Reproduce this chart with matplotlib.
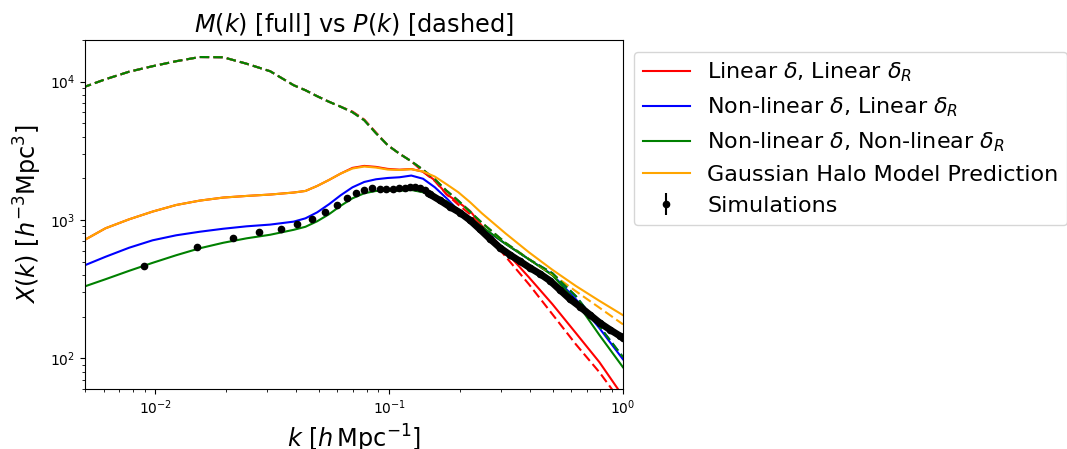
import matplotlib
matplotlib.use("Agg")
import matplotlib.pyplot as plt

# shared k grid for the model curves [h/Mpc]
k_model = [0.00486, 0.00612, 0.00772, 0.00973, 0.01227, 0.01546, 0.01949, 0.02457,
           0.03097, 0.03904, 0.04384, 0.04922, 0.05526, 0.06205, 0.06967, 0.07822,
           0.08783, 0.09863, 0.1107, 0.1243, 0.1396, 0.1567, 0.1760, 0.1976, 0.2219,
           0.2491, 0.3141, 0.3960, 0.4992, 0.6292, 0.7933, 1.00]

# M(k) curves (solid)
M_lin_lin = [701, 871, 1011, 1150, 1283, 1380, 1452, 1492, 1527, 1579, 1621, 1762, 1946,
             2166, 2380, 2460, 2420, 2340, 2310, 2335, 2234, 1937, 1534, 1343, 1162, 908,
             594, 385, 246, 152, 93.6, 53.1]
M_nl_lin = [462, 542, 630, 713, 775, 822, 864, 900, 926, 973, 1028, 1136, 1299, 1510,
            1723, 1883, 1969, 2012, 2036, 2095, 1986, 1724, 1435, 1175, 1012, 886, 673,
            520, 402, 267, 165, 98.3]
M_nl_nl = [326, 373, 429, 490, 556, 624, 684, 737, 782, 849, 893, 979, 1100, 1267, 1435,
           1560, 1621, 1626, 1626, 1648, 1586, 1484, 1365, 1195, 1029, 893, 673, 520,
           398, 258, 147, 86.1]
M_halo = [701, 871, 1011, 1150, 1283, 1380, 1452, 1492, 1527, 1579, 1621, 1762, 1946,
          2166, 2355, 2434, 2393, 2314, 2299, 2327, 2240, 2060, 1812, 1586, 1343, 1118,
          801, 584, 436, 333, 260, 205]

# P(k) curves (dashed)
P_lin = [9035, 10410, 11800, 12930, 14050, 15060, 15010, 13470, 11890, 9419, 8666, 7842,
         7156, 6584, 6077, 5322, 4286, 3468, 3011, 2657, 2231, 1914, 1534, 1288, 1100,
         871, 546, 343, 208, 126, 79.2, 46.5]
P_nl = [9035, 10410, 11800, 12930, 14050, 15060, 15010, 13470, 11890, 9419, 8666, 7842,
        7156, 6584, 6007, 5260, 4236, 3468, 3011, 2657, 2307, 1969, 1626, 1377, 1147,
        955, 684, 520, 412, 281, 170, 102]
P_halo = [9035, 10410, 11800, 12930, 14050, 15060, 15010, 13470, 11890, 9419, 8666, 7842,
          7156, 6584, 6007, 5260, 4236, 3468, 3011, 2657, 2307, 1969, 1626, 1377, 1147,
          955, 684, 522, 405, 305, 232, 176]

# simulations: separated bins at low k
sim_k = [0.00890, 0.01505, 0.02147, 0.02765, 0.03436, 0.04050, 0.04677, 0.05316,
         0.05966, 0.06585, 0.07194, 0.07837, 0.08484, 0.09118, 0.09737, 0.1039, 0.1103,
         0.1166, 0.1225, 0.1287, 0.1352, 0.1420, 0.1467]
sim_X = [465, 638, 737, 819, 867, 942, 1012, 1137, 1277, 1435, 1568, 1648, 1695, 1687,
         1687, 1676, 1695, 1715, 1732, 1744, 1715, 1648, 1560]
sim_err = [8, 7, 6, 6, 5, 5, 5, 5, 5, 5, 5, 5, 5, 4, 4, 4, 4, 4, 4, 4, 4, 4, 4]
# simulations: densely packed bins at high k
sim_k_dense = [0.1492, 0.1646, 0.1817, 0.2005, 0.2213, 0.2443, 0.2696, 0.2975, 0.3284,
               0.3623, 0.3999, 0.4413, 0.4870, 0.5375, 0.5932, 0.6547, 0.7226, 0.7971,
               0.8797, 0.9709, 1.0]
sim_X_dense = [1534, 1388, 1246, 1131, 998, 856, 731, 630, 560, 503, 451, 408, 364, 312,
               268, 236, 206, 180, 161, 145, 141]

labels = [r'Linear $\delta$, Linear $\delta_R$',
          r'Non-linear $\delta$, Linear $\delta_R$',
          r'Non-linear $\delta$, Non-linear $\delta_R$',
          'Gaussian Halo Model Prediction',
          'Simulations']

fig = plt.figure(figsize=(10.67, 4.49), dpi=100)
ax = fig.add_axes([85 / 1067, 1 - 389 / 449, 538 / 1067, 349 / 449])

lw = 1.5
dash = (4.5, 2.0)
h1, = ax.plot(k_model, M_lin_lin, color='red', lw=lw, label=labels[0])
ax.plot(k_model, P_lin, color='red', lw=lw, ls='--', dashes=dash)
h2, = ax.plot(k_model, M_nl_lin, color='blue', lw=lw, label=labels[1])
ax.plot(k_model, P_nl, color='blue', lw=lw, ls='--', dashes=dash)
h3, = ax.plot(k_model, M_nl_nl, color='green', lw=lw, label=labels[2])
ax.plot(k_model, P_halo, color='orange', lw=lw, ls='--', dashes=dash)
ax.plot(k_model, P_nl, color='green', lw=lw, ls='--', dashes=dash)
h4, = ax.plot(k_model, M_halo, color='orange', lw=lw, label=labels[3])

ax.plot(sim_k_dense, sim_X_dense, color='black', lw=5, marker='o', ms=4.5,
        solid_capstyle='round', zorder=5)
h5 = ax.errorbar(sim_k, sim_X, yerr=sim_err, fmt='o', color='black', ms=4.5,
                 zorder=6, label=labels[4])

ax.set_xscale('log')
ax.set_yscale('log')
ax.set_xlim(5e-3, 1.0)
ax.set_ylim(60, 2.0e4)
ax.tick_params(axis='both', which='major', labelsize=10)

ax.set_title(r'$M(k)$ [full] vs $P(k)$ [dashed]', fontsize=17.3)
ax.set_xlabel(r'$k$ $[h\,\mathrm{Mpc}^{-1}]$', fontsize=17.3)
ax.set_ylabel(r'$X(k)$ $[h^{-3}\mathrm{Mpc}^3]$', fontsize=17.3)

ax.legend(handles=[h1, h2, h3, h4, h5], labels=labels, loc='upper left',
          bbox_to_anchor=(1.0204, 0.9656), borderaxespad=0, fontsize=16,
          handlelength=2.1, labelspacing=0.5)

fig.savefig('out.png', dpi=100)
